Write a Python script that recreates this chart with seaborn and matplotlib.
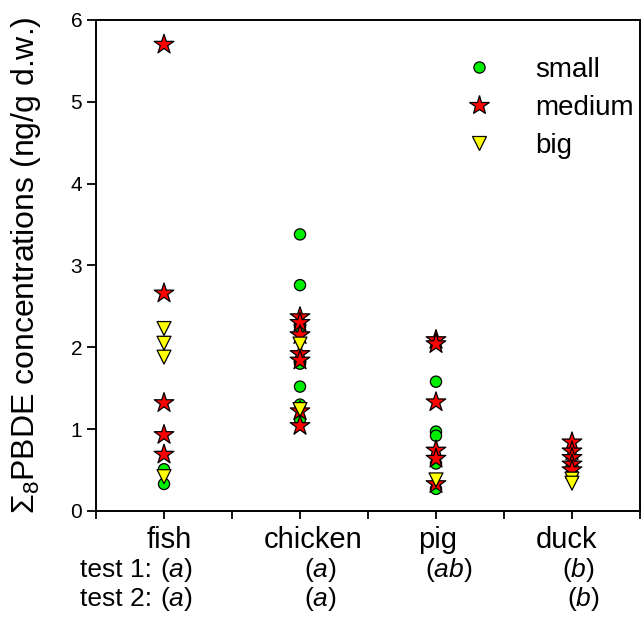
import numpy as np
import pandas as pd
import matplotlib
matplotlib.use("Agg")
import matplotlib.pyplot as plt
import seaborn as sns

# values (ng/g d.w.)
animals = ["fish", "chicken", "pig", "duck"]
small = {
    "fish": [0.51, 0.33],
    "chicken": [3.38, 2.76, 2.25, 1.80, 1.52, 1.30, 1.12],
    "pig": [1.58, 0.97, 0.92, 0.58, 0.27],
    "duck": [],
}
medium = {
    "fish": [5.70, 2.66, 1.32, 0.93, 0.69],
    "chicken": [2.37, 2.30, 2.15, 1.92, 1.84, 1.22, 1.04],
    "pig": [2.09, 2.04, 1.33, 0.74, 0.64, 0.33],
    "duck": [0.84, 0.73, 0.65, 0.57, 0.50],
}
big = {
    "fish": [2.23, 2.05, 1.88, 0.42],
    "chicken": [2.04, 1.24],
    "pig": [0.38],
    "duck": [0.39, 0.34],
}
test1 = ["a", "a", "ab", "b"]
test2 = ["a", "a", "", "b"]

rows = []
for name, group in [("small", small), ("medium", medium), ("big", big)]:
    for a in animals:
        for v in group[a]:
            rows.append((a, v, name))
df = pd.DataFrame(rows, columns=["animal", "conc", "size"])
df["animal"] = pd.Categorical(df["animal"], categories=animals, ordered=True)

sns.set_style("ticks")
plt.rcParams["font.family"] = ["Liberation Sans", "DejaVu Sans"]
plt.rcParams["mathtext.fontset"] = "custom"
plt.rcParams["mathtext.rm"] = "Liberation Sans"
plt.rcParams["mathtext.it"] = "Liberation Sans:italic"
for k in ["text.color", "axes.labelcolor", "xtick.color", "ytick.color", "axes.edgecolor"]:
    plt.rcParams[k] = "black"

fig = plt.figure(figsize=(6.41, 6.19), dpi=100)
ax = fig.add_axes([0.1498, 0.1745, 0.8486, 0.7932])

sns.scatterplot(
    data=df, x="animal", y="conc", hue="size", style="size", size="size",
    palette={"small": "#00ee00", "medium": "#ff0000", "big": "#ffff00"},
    markers={"small": "o", "medium": "*", "big": "v"},
    sizes={"small": 65, "medium": 220, "big": 100},
    edgecolor="black", linewidth=0.9, ax=ax, zorder=3,
)

ax.set_xlim(-0.5, 3.5)
ax.set_ylim(0, 6)
ax.set_xticks(np.arange(-0.5, 3.51, 0.5))
ax.set_xticklabels([])
ax.set_yticks(range(7))
ax.tick_params(axis="y", labelsize=15, length=6.5, width=1.3, direction="out")
ax.tick_params(axis="x", length=6, width=1.3, direction="out")
for s in ax.spines.values():
    s.set_linewidth(1.4)
    s.set_visible(True)
ax.set_xlabel("")
ax.set_ylabel("Σ$_8$PBDE concentrations (ng/g d.w.)", fontsize=23, labelpad=20)

# category and significance rows under the axis
trans = ax.get_xaxis_transform()
name_dx = [0.04, 0.10, 0.01, -0.04]
for i, a in enumerate(animals):
    ax.text(i + name_dx[i], -0.059, a, transform=trans, ha="center", va="center", fontsize=21)
t1_dx = [0.09, 0.15, 0.09, 0.045]
t2_dx = [0.09, 0.15, 0.09, 0.08]
for row, (letters, dx, yy) in enumerate([(test1, t1_dx, -0.120), (test2, t2_dx, -0.179)]):
    ax.text(-0.09, yy, f"test {row + 1}:", transform=trans, ha="right", va="center", fontsize=19)
    for i, l in enumerate(letters):
        if l:
            ax.text(i + dx[i], yy, f"($\\mathit{{{l}}}$)", transform=trans,
                    ha="center", va="center", fontsize=19)

sns.move_legend(ax, "upper left", bbox_to_anchor=(0.632, 0.947), frameon=False,
                title=None, fontsize=20, labelspacing=0.43, handletextpad=1.05,
                borderaxespad=0)

fig.savefig("out.png", dpi=100)
